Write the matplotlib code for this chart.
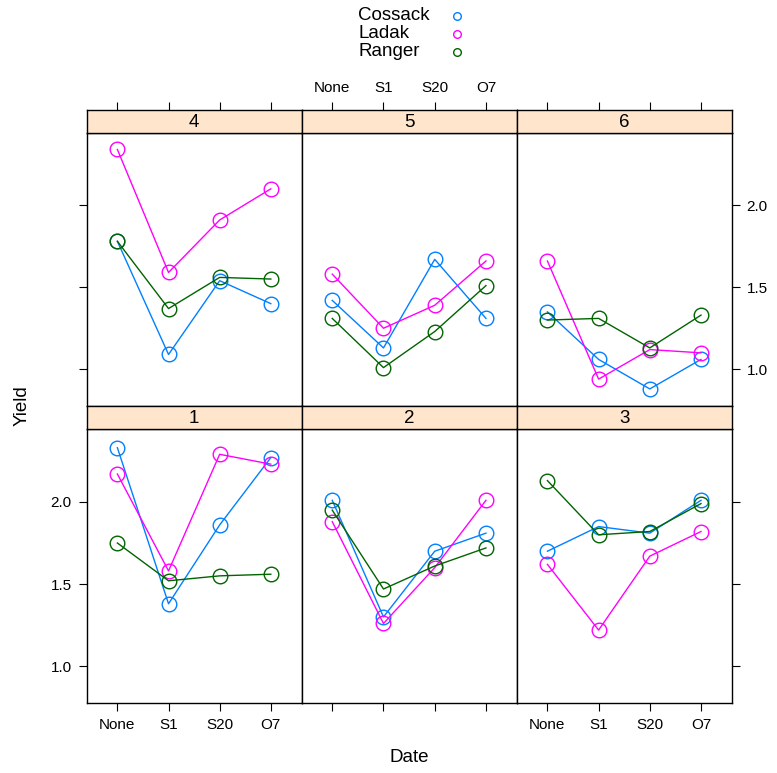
import matplotlib
matplotlib.use('Agg')
import matplotlib.pyplot as plt
from matplotlib.lines import Line2D

plt.rcParams['font.family'] = ['Liberation Sans', 'DejaVu Sans']

dates = ['None', 'S1', 'S20', 'O7']
varieties = ['Cossack', 'Ladak', 'Ranger']
colors = ['#0080ff', '#ff00ff', '#006400']
# panel layout, top row first
block_rows = [[4, 5, 6], [1, 2, 3]]

# yield per block, in date order
cossack = {1: [2.33, 1.38, 1.86, 2.27], 2: [2.01, 1.30, 1.70, 1.81], 3: [1.70, 1.85, 1.81, 2.01],
           4: [1.78, 1.09, 1.54, 1.40], 5: [1.42, 1.13, 1.67, 1.31], 6: [1.35, 1.06, 0.88, 1.06]}
ladak = {1: [2.17, 1.58, 2.29, 2.23], 2: [1.88, 1.26, 1.60, 2.01], 3: [1.62, 1.22, 1.67, 1.82],
         4: [2.34, 1.59, 1.91, 2.10], 5: [1.58, 1.25, 1.39, 1.66], 6: [1.66, 0.94, 1.12, 1.10]}
ranger = {1: [1.75, 1.52, 1.55, 1.56], 2: [1.95, 1.47, 1.61, 1.72], 3: [2.13, 1.80, 1.82, 1.99],
          4: [1.78, 1.37, 1.56, 1.55], 5: [1.31, 1.01, 1.23, 1.51], 6: [1.30, 1.31, 1.13, 1.33]}
series = [cossack, ladak, ranger]

W, H = 777, 773
fig = plt.figure(figsize=(W / 100, H / 100), dpi=100)

allv = [v for s in series for b in s.values() for v in b]
lo, hi = min(allv), max(allv)
pad = 0.07 * (hi - lo)
ylim = (lo - pad, hi + pad)

col_x = [86.7, 301.5, 516.7, 731.7]
row_y = [(109.7, 132.7, 405.7), (405.7, 429.3, 702.7)]  # strip top, panel top, panel bottom

tick_kw = dict(direction='out', length=5.8, width=0.8, pad=5, labelsize=11, colors='black')

for r, row in enumerate(block_rows):
    st, pt, pb = row_y[r]
    for c, blk in enumerate(row):
        x0, x1 = col_x[c], col_x[c + 1]
        ax = fig.add_axes([x0 / W, 1 - pb / H, (x1 - x0) / W, (pb - pt) / H])
        for s, col in zip(series, colors):
            ax.plot(range(1, 5), s[blk], color=col, lw=1.0, marker='o', ms=10.5,
                    mfc='none', mec=col, mew=1.0)
        ax.set_xlim(0.4, 4.6)
        ax.set_ylim(*ylim)
        ax.set_xticks(range(1, 5))
        ax.set_xticklabels(dates)
        ax.set_yticks([1.0, 1.5, 2.0])
        ax.set_yticklabels(['1.0', '1.5', '2.0'])
        for sp in ax.spines.values():
            sp.set_linewidth(1.0)
        ax.tick_params(**tick_kw)
        ax.tick_params(axis='x', bottom=(r == 1), labelbottom=(r == 1 and c != 1),
                       top=False, labeltop=False)
        ax.tick_params(axis='y',
                       left=(c == 0), labelleft=(c == 0 and r == 1),
                       right=(c == 2), labelright=(c == 2 and r == 0))
        # strip, carries the top ticks of the top row
        sax = fig.add_axes([x0 / W, 1 - pt / H, (x1 - x0) / W, (pt - st) / H])
        sax.set_facecolor('#ffe5cc')
        sax.set_xlim(0.4, 4.6)
        sax.set_xticks(range(1, 5))
        sax.set_xticklabels(dates)
        sax.set_yticks([])
        for sp in sax.spines.values():
            sp.set_linewidth(1.0)
        sax.tick_params(**tick_kw)
        sax.tick_params(axis='x', bottom=False, labelbottom=False,
                        top=(r == 0), labeltop=(r == 0 and c == 1))
        sax.text(0.5, 0.45, str(blk), ha='center', va='center', fontsize=13.5,
                 transform=sax.transAxes)

fig.text(409 / W, 1 - 758 / H, 'Date', ha='center', va='center', fontsize=13.5)
fig.text(22 / W, 1 - 406 / H, 'Yield', ha='center', va='center', rotation=90, fontsize=13.5)

# key: labels left-aligned, symbols in a column to the right
key_y = [15.7, 33.7, 52.0]
for name, col, ky in zip(varieties, colors, key_y):
    fig.text(358 / W, 1 - ky / H, name, ha='left', va='center', fontsize=13.5)
    fig.add_artist(Line2D([457 / W], [1 - ky / H], transform=fig.transFigure, ls='none',
                          marker='o', ms=5.5, mfc='none', mec=col, mew=1.0))

fig.savefig('out.png', dpi=100)
